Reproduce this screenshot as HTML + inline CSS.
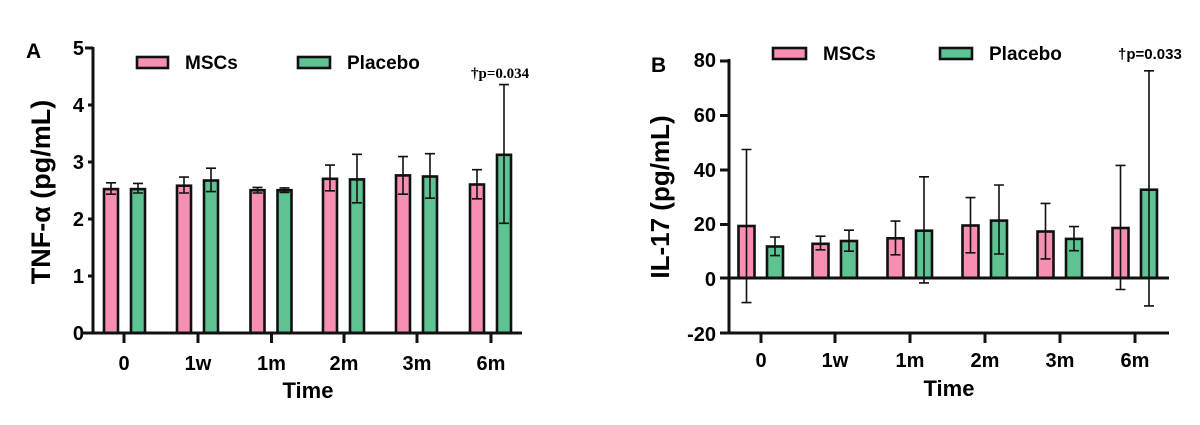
<!DOCTYPE html>
<html><head><style>body{margin:0;background:#fff}svg{display:block}</style></head><body>
<svg width="1200" height="425" viewBox="0 0 1200 425" xmlns="http://www.w3.org/2000/svg" font-family="Liberation Sans, Arial, sans-serif" font-weight="bold">
<rect width="1200" height="425" fill="#fff"/>
<g id="A">
<text x="26" y="58" font-size="21">A</text>
<g font-size="20" text-anchor="end">
<text x="84" y="340">0</text><text x="84" y="283">1</text><text x="84" y="226">2</text><text x="84" y="169">3</text><text x="84" y="112">4</text><text x="84" y="55">5</text>
</g>
<text transform="translate(50,192) rotate(-90)" font-size="27" text-anchor="middle">TNF-α (pg/mL)</text>
<g stroke="#111" stroke-width="1.6">
<rect x="104" y="189.1" width="14" height="143.9" fill="#f78fb4" stroke-width="2.6"/>
<rect x="177" y="185.7" width="14" height="147.3" fill="#f78fb4" stroke-width="2.6"/>
<rect x="250.5" y="190.2" width="14" height="142.8" fill="#f78fb4" stroke-width="2.6"/>
<rect x="323" y="178.8" width="14" height="154.2" fill="#f78fb4" stroke-width="2.6"/>
<rect x="396" y="175.4" width="14" height="157.6" fill="#f78fb4" stroke-width="2.6"/>
<rect x="470" y="184.5" width="14" height="148.5" fill="#f78fb4" stroke-width="2.6"/>
<rect x="131" y="189.1" width="14" height="143.9" fill="#5ec292" stroke-width="2.6"/>
<rect x="204" y="180.5" width="14" height="152.5" fill="#5ec292" stroke-width="2.6"/>
<rect x="277.5" y="190.2" width="14" height="142.8" fill="#5ec292" stroke-width="2.6"/>
<rect x="350" y="179.4" width="14" height="153.6" fill="#5ec292" stroke-width="2.6"/>
<rect x="423" y="176.5" width="14" height="156.5" fill="#5ec292" stroke-width="2.6"/>
<rect x="497" y="154.8" width="14" height="178.2" fill="#5ec292" stroke-width="2.6"/>
<path fill="none" d="M111 194.2V182.8M106 182.8H116M106 194.2H116
M184 193V177.1M179 177.1H189M179 193H189
M257.5 193V187.4M252.5 187.4H262.5M252.5 193H262.5
M330 190.8V165.1M325 165.1H335M325 190.8H335
M403 194.2V156.6M398 156.6H408M398 194.2H408
M477 198.8V169.7M472 169.7H482M472 198.8H482
M138 193V183.4M133 183.4H143M133 193H143
M211 191.6V168.2M206 168.2H216M206 191.6H216
M284.5 192.4V187.9M279.5 187.9H289.5M279.5 192.4H289.5
M357 202.8V154.3M352 154.3H362M352 202.8H362
M430 198.2V153.7M425 153.7H435M425 198.2H435
M504 223.3V84.6M499 84.6H509M499 223.3H509"/>
</g>
<g stroke="#111" stroke-width="3" fill="none">
<path d="M93 47V334M85 48H93M88 105H93M88 162H93M88 219H93M88 276H93M81 333H522"/>
<path d="M124 333V343M198 333V343M271.5 333V343M344 333V343M417 333V343M491 333V343"/>
</g>
<g font-size="20" text-anchor="middle">
<text x="124" y="370">0</text><text x="198" y="370">1w</text><text x="271.5" y="370">1m</text><text x="344" y="370">2m</text><text x="417" y="370">3m</text><text x="491" y="370">6m</text>
<text x="308" y="398" font-size="22">Time</text>
</g>
<rect x="137" y="57" width="31" height="11" fill="#f78fb4" stroke="#111" stroke-width="2.6"/>
<text x="185" y="69" font-size="19">MSCs</text>
<rect x="298" y="57" width="32" height="11" fill="#5ec292" stroke="#111" stroke-width="2.6"/>
<text x="347" y="69" font-size="19">Placebo</text>
<text x="471" y="78" font-size="15" font-family="Liberation Serif, serif">†p=0.034</text>
</g>
<g id="B">
<text x="651" y="72" font-size="21">B</text>
<g font-size="20" text-anchor="end">
<text x="716" y="67">80</text><text x="716" y="122">60</text><text x="716" y="177">40</text><text x="716" y="231">20</text><text x="716" y="286">0</text><text x="716" y="341">-20</text>
</g>
<text transform="translate(669,197) rotate(-90)" font-size="26" text-anchor="middle">IL-17 (pg/mL)</text>
<g stroke="#111" stroke-width="1.6">
<rect x="738.5" y="226" width="16" height="52" fill="#f78fb4" stroke-width="2.6"/>
<rect x="812.5" y="243.8" width="16" height="34.2" fill="#f78fb4" stroke-width="2.6"/>
<rect x="887.5" y="238.3" width="16" height="39.7" fill="#f78fb4" stroke-width="2.6"/>
<rect x="962.5" y="225.5" width="16" height="52.5" fill="#f78fb4" stroke-width="2.6"/>
<rect x="1037.5" y="231.5" width="16" height="46.5" fill="#f78fb4" stroke-width="2.6"/>
<rect x="1112.5" y="228" width="16" height="50" fill="#f78fb4" stroke-width="2.6"/>
<rect x="767" y="246.5" width="16" height="31.5" fill="#5ec292" stroke-width="2.6"/>
<rect x="841" y="241" width="16" height="37" fill="#5ec292" stroke-width="2.6"/>
<rect x="916" y="230.7" width="16" height="47.3" fill="#5ec292" stroke-width="2.6"/>
<rect x="991" y="220.6" width="16" height="57.4" fill="#5ec292" stroke-width="2.6"/>
<rect x="1066" y="238.9" width="16" height="39.1" fill="#5ec292" stroke-width="2.6"/>
<rect x="1141" y="189.7" width="16" height="88.3" fill="#5ec292" stroke-width="2.6"/>
<path fill="none" d="M746.5 302.6V149.5M741.5 149.5H751.5M741.5 302.6H751.5
M820.5 249.8V236.2M815.5 236.2H825.5M815.5 249.8H825.5
M895.5 254.8V221.1M890.5 221.1H900.5M890.5 254.8H900.5
M970.5 252.8V197.6M965.5 197.6H975.5M965.5 252.8H975.5
M1045.5 258.9V203.4M1040.5 203.4H1050.5M1040.5 258.9H1050.5
M1120.5 289.5V165.4M1115.5 165.4H1125.5M1115.5 289.5H1125.5
M775 255.6V237M770 237H780M770 255.6H780
M849 251.2V230.2M844 230.2H854M844 251.2H854
M924 282.9V176.8M919 176.8H929M919 282.9H929
M999 254V185M994 185H1004M994 254H1004
M1074 250.7V226.6M1069 226.6H1079M1069 250.7H1079
M1149 305.9V70.8M1144 70.8H1154M1144 305.9H1154"/>
</g>
<g stroke="#111" stroke-width="3" fill="none">
<path d="M729 59V334M720 61H729M720 115.5H729M720 170H729M720 224.5H729M720 278H1169M720 333H1169"/>
<path d="M761 333V343M835 333V343M910 333V343M985 333V343M1060 333V343M1135 333V343"/>
</g>
<g font-size="20" text-anchor="middle">
<text x="761" y="367">0</text><text x="835" y="367">1w</text><text x="910" y="367">1m</text><text x="985" y="367">2m</text><text x="1060" y="367">3m</text><text x="1135" y="367">6m</text>
<text x="949" y="396" font-size="22">Time</text>
</g>
<rect x="773" y="48" width="33" height="11" fill="#f78fb4" stroke="#111" stroke-width="2.6"/>
<text x="823" y="60" font-size="19">MSCs</text>
<rect x="940" y="48" width="32" height="11" fill="#5ec292" stroke="#111" stroke-width="2.6"/>
<text x="989" y="60" font-size="19">Placebo</text>
<text x="1118" y="59" font-size="15">†p=0.033</text>
</g>
</svg>
</body></html>
